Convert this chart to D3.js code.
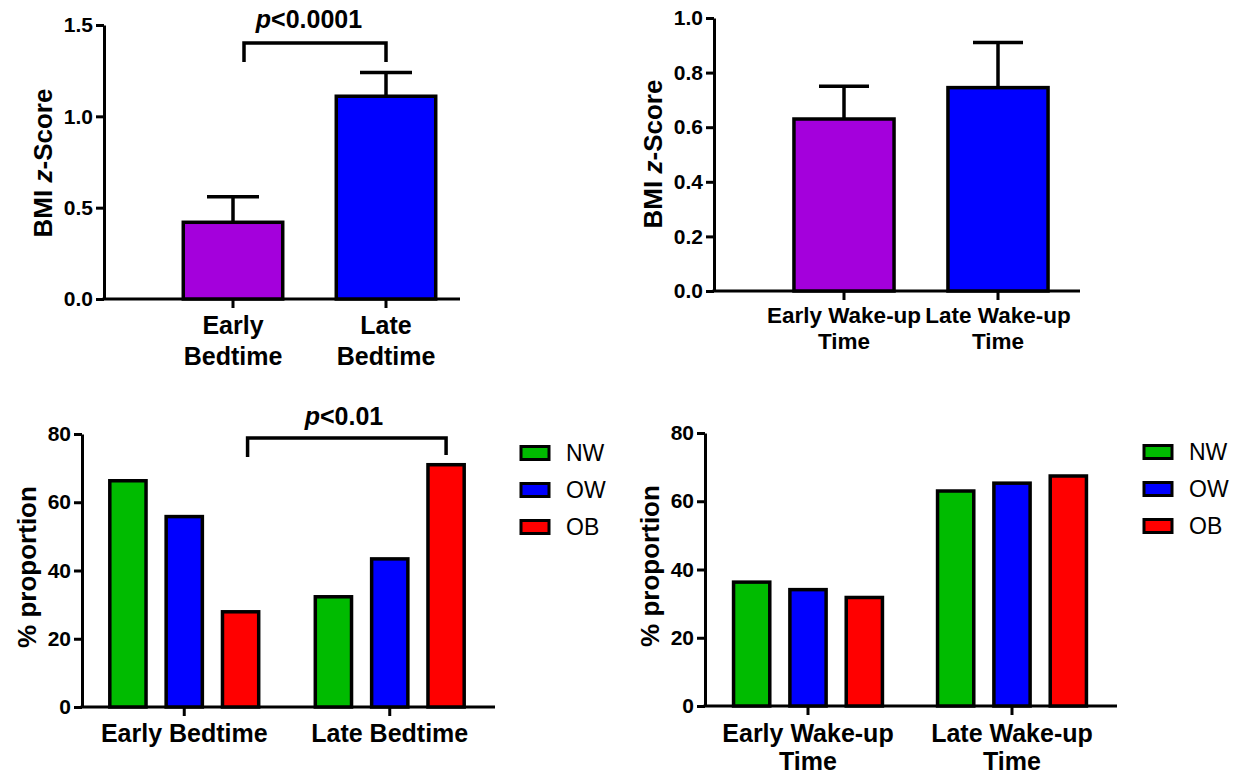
<!DOCTYPE html>
<html>
<head>
<meta charset="utf-8">
<script src="https://cdnjs.cloudflare.com/ajax/libs/d3/7.8.5/d3.min.js"></script>
<style>
body { margin: 0; background: #fff; }
svg { font-family: "Liberation Sans", Arial, sans-serif; font-weight: bold; }
</style>
</head>
<body>
<div id="chart"></div>
<script>
// Data
var bedtimeLabels = ["Early Bedtime", "Late Bedtime"];
var wakeLabels = ["Early Wake-up Time", "Late Wake-up Time"];

var bedtimeZ = [0.42, 1.11];
var bedtimeZErr = [0.14, 0.13];
var wakeZ = [0.63, 0.745];
var wakeZErr = [0.12, 0.165];

var weightGroups = ["NW", "OW", "OB"];
var bedtimeNW = [66.3, 32.3];
var bedtimeOW = [55.8, 43.4];
var bedtimeOB = [27.9, 71.0];
var wakeNW = [36.3, 63.0];
var wakeOW = [34.1, 65.3];
var wakeOB = [31.8, 67.4];

var zTicksBed = [0, 0.5, 1.0, 1.5];
var zTicksWake = [0, 0.2, 0.4, 0.6, 0.8, 1.0];
var propTicks = [0, 20, 40, 60, 80];

var bmiColors = ["#a400dc", "#0000ff"];
var groupColors = ["#00bb00", "#0000ff", "#ff0000"];

var svgWidth = 1238;
var svgHeight = 778;

var svg = d3.select("#chart")
    .append("svg")
    .attr("width", svgWidth)
    .attr("height", svgHeight);

// y axis with bold ticks
function drawYAxis(x0, y, ticks, fmt, fontSize) {
    var g = svg.append("g")
        .attr("transform", `translate(${x0},0)`)
        .call(d3.axisLeft(y).tickValues(ticks).tickFormat(fmt).tickSize(8).tickSizeOuter(0).tickPadding(3));
    g.select(".domain").attr("stroke", "#000").attr("stroke-width", 3);
    g.selectAll(".tick line").attr("stroke", "#000").attr("stroke-width", 3);
    g.selectAll(".tick text")
        .attr("fill", "#000")
        .attr("font-size", fontSize + "px")
        .attr("font-weight", "bold")
        .attr("font-family", "Liberation Sans, Arial, sans-serif");
    return g;
}

function drawXLine(x0, x1, yPos) {
    svg.append("line")
        .attr("x1", x0 - 1.5).attr("x2", x1)
        .attr("y1", yPos).attr("y2", yPos)
        .attr("stroke", "#000").attr("stroke-width", 3);
}

function drawXTicks(centers, yPos) {
    centers.forEach(function(cx) {
        svg.append("line")
            .attr("x1", cx).attr("x2", cx)
            .attr("y1", yPos).attr("y2", yPos + 9)
            .attr("stroke", "#000").attr("stroke-width", 3);
    });
}

function splitLabel(label, twoLines) {
    if (!twoLines) return [label];
    var i = label.lastIndexOf(" ");
    return [label.slice(0, i), label.slice(i + 1)];
}

function drawXLabels(labels, centers, twoLines, baseline, lineGap, fontSize) {
    labels.forEach(function(lab, i) {
        var t = svg.append("text")
            .attr("text-anchor", "middle")
            .attr("font-size", fontSize + "px")
            .attr("fill", "#000");
        splitLabel(lab, twoLines).forEach(function(line, j) {
            t.append("tspan")
                .attr("x", centers[i])
                .attr("y", baseline + j * lineGap)
                .text(line);
        });
    });
}

function drawYTitle(cx, cy, parts, fontSize) {
    var t = svg.append("text")
        .attr("transform", `translate(${cx},${cy}) rotate(-90)`)
        .attr("text-anchor", "middle")
        .attr("dominant-baseline", "central")
        .attr("font-size", fontSize + "px")
        .attr("fill", "#000");
    parts.forEach(function(p) {
        t.append("tspan").attr("font-style", p[1] ? "italic" : "normal").text(p[0]);
    });
}

function drawPValue(cx, baseline, rest) {
    var t = svg.append("text")
        .attr("x", cx).attr("y", baseline)
        .attr("text-anchor", "middle")
        .attr("font-size", "25px")
        .attr("fill", "#000");
    t.append("tspan").attr("font-style", "italic").text("p");
    t.append("tspan").text(rest);
}

function drawBracket(xa, xb, yTop, yA, yB) {
    svg.append("path")
        .attr("d", `M${xa},${yA}V${yTop}H${xb}V${yB}`)
        .attr("fill", "none")
        .attr("stroke", "#000")
        .attr("stroke-width", 3.5);
}

// ---------- Panel A: BMI z-score by bedtime ----------
var yA = d3.scaleLinear().domain([0, 1.5]).range([299, 25]);
var xA = d3.scaleBand().domain(bedtimeLabels).range([156.5, 462.5]).paddingInner(0.35).paddingOuter(0.175);
var centersA = bedtimeLabels.map(d => xA(d) + xA.bandwidth() / 2);

drawXLine(104, 460, yA(0));
drawYAxis(104, yA, zTicksBed, d3.format(".1f"), 21);
drawXTicks(centersA, yA(0));

bedtimeLabels.forEach(function(lab, i) {
    svg.append("rect")
        .attr("x", xA(lab)).attr("width", xA.bandwidth())
        .attr("y", yA(bedtimeZ[i])).attr("height", yA(0) - yA(bedtimeZ[i]))
        .attr("fill", bmiColors[i]).attr("stroke", "#000").attr("stroke-width", 3.5);
    var top = yA(bedtimeZ[i] + bedtimeZErr[i]);
    svg.append("line").attr("x1", centersA[i]).attr("x2", centersA[i])
        .attr("y1", yA(bedtimeZ[i])).attr("y2", top)
        .attr("stroke", "#000").attr("stroke-width", 3.5);
    svg.append("line").attr("x1", centersA[i] - 26).attr("x2", centersA[i] + 26)
        .attr("y1", top).attr("y2", top)
        .attr("stroke", "#000").attr("stroke-width", 3.5);
});
drawXLabels(bedtimeLabels, centersA, true, 334, 31, 25);
drawYTitle(43, 163, [["BMI ", false], ["z", true], ["-Score", false]], 26);
drawBracket(centersA[0] + 11, centersA[1], 43, 62, 62);
drawPValue(309, 28, "<0.0001");

// ---------- Panel B: BMI z-score by wake-up time ----------
var yB = d3.scaleLinear().domain([0, 1]).range([291, 18]);
var xB = d3.scaleBand().domain(wakeLabels).range([767, 1075]).paddingInner(0.35).paddingOuter(0.175);
var centersB = wakeLabels.map(d => xB(d) + xB.bandwidth() / 2);

drawXLine(714, 1080, yB(0));
drawYAxis(714, yB, zTicksWake, d3.format(".1f"), 21);
drawXTicks(centersB, yB(0));

wakeLabels.forEach(function(lab, i) {
    svg.append("rect")
        .attr("x", xB(lab)).attr("width", xB.bandwidth())
        .attr("y", yB(wakeZ[i])).attr("height", yB(0) - yB(wakeZ[i]))
        .attr("fill", bmiColors[i]).attr("stroke", "#000").attr("stroke-width", 3.5);
    var top = yB(wakeZ[i] + wakeZErr[i]);
    svg.append("line").attr("x1", centersB[i]).attr("x2", centersB[i])
        .attr("y1", yB(wakeZ[i])).attr("y2", top)
        .attr("stroke", "#000").attr("stroke-width", 3.5);
    svg.append("line").attr("x1", centersB[i] - 25).attr("x2", centersB[i] + 25)
        .attr("y1", top).attr("y2", top)
        .attr("stroke", "#000").attr("stroke-width", 3.5);
});
drawXLabels(wakeLabels, centersB, true, 323, 26, 22.5);
drawYTitle(653, 154, [["BMI ", false], ["z", true], ["-Score", false]], 26);

// ---------- grouped proportion panels ----------
function groupedPanel(cfg) {
    var y = d3.scaleLinear().domain([0, 80]).range([cfg.y0, cfg.y0 - 273]);
    var x = d3.scaleBand().domain(cfg.labels).range(cfg.bandRange);
    var xInner = d3.scaleBand().domain(weightGroups).range([-84.5, 84.5]).paddingInner(0.357).paddingOuter(0.1785);
    var centers = cfg.labels.map(d => x(d) + x.bandwidth() / 2);

    drawXLine(cfg.x0, cfg.x1, y(0));
    drawYAxis(cfg.x0, y, propTicks, d3.format("d"), 21);
    drawXTicks(centers, y(0));

    var series = cfg.series;
    weightGroups.forEach(function(grp, gi) {
        cfg.labels.forEach(function(lab, ci) {
            var v = series[gi][ci];
            svg.append("rect")
                .attr("x", centers[ci] + xInner(grp))
                .attr("width", xInner.bandwidth())
                .attr("y", y(v)).attr("height", y(0) - y(v))
                .attr("fill", groupColors[gi])
                .attr("stroke", "#000").attr("stroke-width", 3.5);
        });
    });

    // legend
    weightGroups.forEach(function(grp, gi) {
        var cy = cfg.legendY + gi * 37;
        svg.append("rect")
            .attr("x", cfg.legendX).attr("y", cy - 6.5)
            .attr("width", 28).attr("height", 13)
            .attr("fill", groupColors[gi]).attr("stroke", "#000").attr("stroke-width", 3);
        svg.append("text")
            .attr("x", cfg.legendX + 45).attr("y", cy)
            .attr("dominant-baseline", "central")
            .attr("font-size", "23px").attr("font-weight", "normal")
            .attr("fill", "#000")
            .text(grp);
    });

    drawXLabels(cfg.labels, centers, cfg.twoLines, 742, 28, 25);
    drawYTitle(cfg.titleX, cfg.y0 - 140, [["% proportion", false]], 26);
    return { x: x, y: y, xInner: xInner, centers: centers };
}

// Panel C: proportion by bedtime
var pC = groupedPanel({
    labels: bedtimeLabels,
    series: [bedtimeNW, bedtimeOW, bedtimeOB],
    y0: 707, x0: 82, x1: 495,
    bandRange: [81.5, 492.5],
    legendX: 521, legendY: 453,
    twoLines: false, titleX: 27
});
var obC0 = pC.centers[0] + pC.xInner("OB") + pC.xInner.bandwidth() / 2;
var obC1 = pC.centers[1] + pC.xInner("OB") + pC.xInner.bandwidth() / 2;
drawBracket(obC0 + 7, obC1, 438, 457, 455);
drawPValue(344, 425, "<0.01");

// Panel D: proportion by wake-up time
groupedPanel({
    labels: wakeLabels,
    series: [wakeNW, wakeOW, wakeOB],
    y0: 706, x0: 705, x1: 1117,
    bandRange: [706, 1114],
    legendX: 1144, legendY: 452,
    twoLines: true, titleX: 650
});
</script>
</body>
</html>
